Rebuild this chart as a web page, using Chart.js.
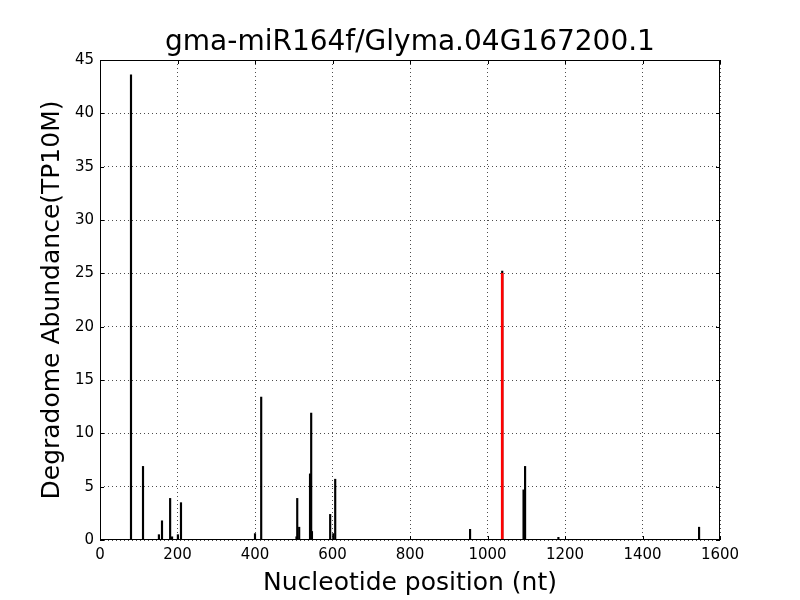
<!DOCTYPE html>
<html>
<head>
<meta charset="utf-8">
<script src="https://cdn.jsdelivr.net/npm/chart.js@4"></script>
<style>
  html, body { margin: 0; padding: 0; background: #fff; }
  #wrap { width: 800px; height: 600px; }
</style>
</head>
<body>
<div id="wrap"><canvas id="myChart" width="800" height="600"></canvas></div>
<script>
  // degradome reads (black) and the target site (red)
  const positions = [80, 111, 152, 160, 181, 186, 201, 209, 400, 416, 507, 509, 514, 542, 545, 547, 594, 602, 607, 955, 1038, 1093, 1097, 1183, 1546];
  const abundance = [43.6, 6.9, 0.5, 1.8, 3.9, 0.3, 0.5, 3.5, 0.6, 13.4, 0.3, 3.9, 1.2, 6.2, 11.9, 0.8, 2.4, 0.6, 5.7, 1.0, 25.2, 4.7, 6.9, 0.25, 1.2];
  const sitePos = [1038];
  const siteVal = [25.0];
  const xTicks = [0, 200, 400, 600, 800, 1000, 1200, 1400, 1600];
  const yTicks = [0, 5, 10, 15, 20, 25, 30, 35, 40, 45];

  const font = 'DejaVu Sans';
  const ctx = document.getElementById('myChart');

  // box around the plot plus inward ticks on all four sides
  const frame = {
    id: 'frame',
    afterDraw(chart) {
      const c = chart.ctx, a = chart.chartArea;
      const xs = chart.scales.x, ys = chart.scales.y;
      c.save();
      c.strokeStyle = '#000';
      c.lineWidth = 1;
      c.strokeRect(a.left + 0.5, a.top + 0.5, a.right - a.left - 1, a.bottom - a.top - 1);
      c.beginPath();
      xTicks.forEach(v => {
        const p = Math.round(xs.getPixelForValue(v)) + 0.5;
        c.moveTo(p, a.bottom); c.lineTo(p, a.bottom - 4);
        c.moveTo(p, a.top); c.lineTo(p, a.top + 4);
      });
      yTicks.forEach(v => {
        const p = Math.round(ys.getPixelForValue(v)) + 0.5;
        c.moveTo(a.left, p); c.lineTo(a.left + 4, p);
        c.moveTo(a.right, p); c.lineTo(a.right - 4, p);
      });
      c.stroke();
      c.restore();
    }
  };

  new Chart(ctx, {
    type: 'bar',
    data: {
      datasets: [
        {
          data: positions.map((p, i) => ({ x: p, y: abundance[i] })),
          backgroundColor: '#000',
          barThickness: 1.5,
          grouped: false,
          order: 2
        },
        {
          data: sitePos.map((p, i) => ({ x: p, y: siteVal[i] })),
          backgroundColor: '#ff0000',
          barThickness: 2,
          grouped: false,
          order: 1
        }
      ]
    },
    options: {
      responsive: false,
      animation: false,
      layout: { padding: { left: 20, right: 0, top: 0, bottom: 2 } },
      plugins: {
        legend: { display: false },
        tooltip: { enabled: false },
        title: {
          display: true,
          text: 'gma-miR164f/Glyma.04G167200.1',
          color: '#000',
          font: { family: font, size: 28, weight: 'normal' },
          padding: { top: 26, bottom: 0.4 }
        }
      },
      scales: {
        x: {
          type: 'linear',
          offset: false,
          min: 0, max: 1600,
          afterBuildTicks: s => { s.ticks = xTicks.map(v => ({ value: v })); },
          afterFit: s => { s.height = 58; },
          ticks: { color: '#000', font: { family: font, size: 15 }, padding: 6, callback: v => String(v) },
          grid: { color: '#000', lineWidth: 0.7, drawTicks: false, offset: false },
          border: { display: false, dash: [1, 3] },
          title: {
            display: true,
            text: 'Nucleotide position (nt)',
            color: '#000',
            font: { family: font, size: 25 },
            padding: { top: 0, bottom: 0 }
          }
        },
        y: {
          min: 0, max: 45,
          afterBuildTicks: s => { s.ticks = yTicks.map(v => ({ value: v })); },
          afterFit: s => { s.width = 80; },
          ticks: { color: '#000', font: { family: font, size: 15 }, padding: 6, callback: v => String(v) },
          grid: { color: '#000', lineWidth: 0.7, drawTicks: false },
          border: { display: false, dash: [1, 3] },
          title: {
            display: true,
            text: 'Degradome Abundance(TP10M)',
            color: '#000',
            font: { family: font, size: 25 },
            padding: { top: 17, bottom: 0 }
          }
        },
        // empty right-hand margin so the title centres over the plot
        yRight: {
          position: 'right',
          min: 0, max: 45,
          afterFit: s => { s.width = 80; },
          ticks: { display: false },
          grid: { display: false, drawTicks: false },
          border: { display: false }
        }
      }
    },
    plugins: [frame]
  });
</script>
</body>
</html>
